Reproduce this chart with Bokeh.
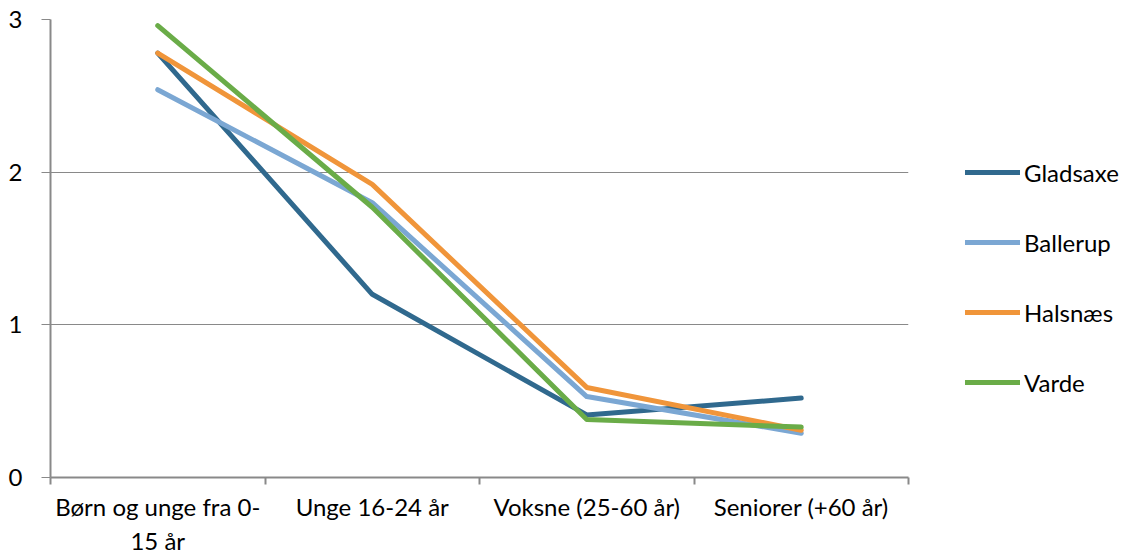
from bokeh.plotting import figure
from bokeh.models import Range1d, FixedTicker, Legend, LegendItem
from bokeh.embed import file_html
from bokeh.resources import INLINE

categories = ["Børn og unge fra 0-\n15 år", "Unge 16-24 år", "Voksne (25-60 år)", "Seniorer (+60 år)"]
gladsaxe = [2.78, 1.20, 0.41, 0.52]
ballerup = [2.54, 1.80, 0.53, 0.29]
halsnaes = [2.78, 1.92, 0.59, 0.31]
varde = [2.96, 1.77, 0.38, 0.33]
series_names = ["Gladsaxe", "Ballerup", "Halsnæs", "Varde"]
colors = ["#30698E", "#7BA7D3", "#F0953A", "#6AAC48"]
y_ticks = [0, 1, 2, 3]

FONT = "Lato"
GRAY = "#898989"
FS = "24px"

xs = [i + 0.5 for i in range(len(categories))]

p = figure(frame_width=858, frame_height=458, output_backend="svg", toolbar_location=None,
           x_range=Range1d(0, len(categories)), y_range=Range1d(0, 3),
           min_border_left=50, min_border_right=0, min_border_top=19, min_border_bottom=60)
p.outline_line_color = None
p.background_fill_color = "white"
p.border_fill_color = "white"

renderers = []
for name, vals, c in zip(series_names, [gladsaxe, ballerup, halsnaes, varde], colors):
    r = p.line(xs, vals, line_color=c, line_width=5, line_cap="round", line_join="round")
    renderers.append(r)

# x axis
p.xaxis.ticker = FixedTicker(ticks=xs, minor_ticks=list(range(len(categories) + 1)))
p.xaxis.major_label_overrides = {x: c for x, c in zip(xs, categories)}
p.xaxis.major_tick_out = 0
p.xaxis.major_tick_in = 0
p.xaxis.minor_tick_out = 7
p.xaxis.minor_tick_in = 0
p.xaxis.minor_tick_line_color = GRAY
p.xaxis.minor_tick_line_width = 2
p.xaxis.axis_line_color = GRAY
p.xaxis.axis_line_width = 2
p.xaxis.major_label_text_font = FONT
p.xaxis.major_label_text_font_size = FS
p.xaxis.major_label_text_color = "black"
p.xaxis.major_label_standoff = 7

# y axis
p.yaxis.ticker = FixedTicker(ticks=y_ticks, minor_ticks=[])
p.yaxis.major_tick_out = 9
p.yaxis.major_tick_in = 0
p.yaxis.major_tick_line_color = GRAY
p.yaxis.major_tick_line_width = 1
p.yaxis.axis_line_color = GRAY
p.yaxis.axis_line_width = 2
p.yaxis.major_label_text_font = FONT
p.yaxis.major_label_text_font_size = FS
p.yaxis.major_label_text_color = "black"
p.yaxis.major_label_standoff = 19

p.xgrid.visible = False
p.ygrid.ticker = FixedTicker(ticks=y_ticks)
p.ygrid.grid_line_color = GRAY
p.ygrid.grid_line_width = 1

legend = Legend(items=[LegendItem(label=n, renderers=[r]) for n, r in zip(series_names, renderers)],
                location=(57, 80), orientation="vertical")
legend.glyph_width = 55
legend.glyph_height = 30
legend.label_height = 30
legend.spacing = 40
legend.padding = 0
legend.margin = 0
legend.label_standoff = 4
legend.border_line_alpha = 0
legend.background_fill_alpha = 0
legend.label_text_font = FONT
legend.label_text_font_size = FS
legend.label_text_color = "black"
p.add_layout(legend, "right")

open("out.html", "w").write(file_html(p, INLINE))
